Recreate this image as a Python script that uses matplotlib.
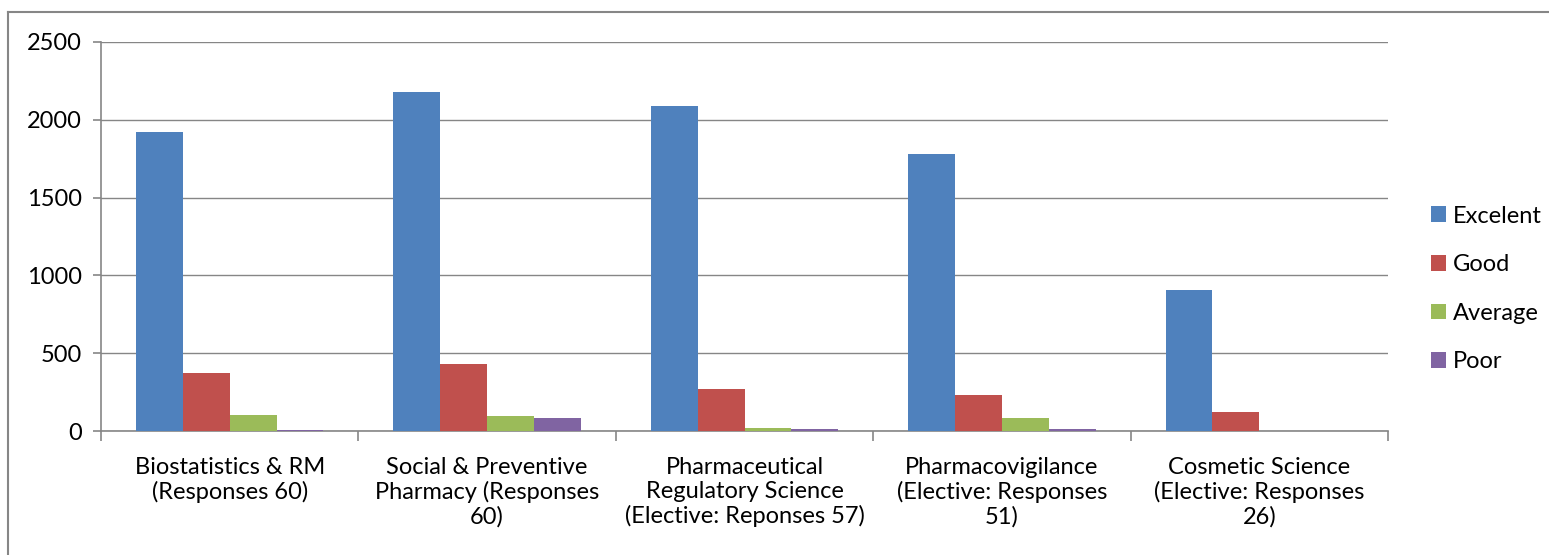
import matplotlib.pyplot as plt
import numpy as np
from matplotlib.lines import Line2D

courses = ['Biostatistics & RM\n(Responses 60)',
           'Social & Preventive\nPharmacy (Responses\n60)',
           'Pharmaceutical\nRegulatory Science\n(Elective: Reponses 57)',
           'Pharmacovigilance\n(Elective: Responses\n51)',
           'Cosmetic Science\n(Elective: Responses\n26)']
excelent = [1920, 2180, 2090, 1780, 907]
good = [373, 431, 270, 231, 122]
average = [101, 95, 17, 84, 0]
poor = [8, 82, 15, 13, 0]

series = [('Excelent', excelent, '#4F81BD'),
          ('Good', good, '#C0504D'),
          ('Average', average, '#9BBB59'),
          ('Poor', poor, '#8064A2')]

plt.rcParams['font.family'] = ['Lato', 'DejaVu Sans']

W, H = 1549, 555
fig = plt.figure(figsize=(W / 100, H / 100), dpi=100)
ax = fig.add_axes([101/W, 1 - 431/H, (1388-101)/W, (431-42)/H])

x = np.arange(len(courses))
w = 0.182
for i, (name, vals, col) in enumerate(series):
    ax.bar(x + (i - 1.5) * w, vals, w, color=col, label=name, zorder=3)

ax.set_xlim(-0.5, len(courses) - 0.5)
ax.set_ylim(0, 2500)
ax.set_yticks(range(0, 2501, 500))
ax.yaxis.grid(True, color='#868686', linewidth=1, zorder=0)

ax.set_xticks(np.arange(-0.5, len(courses)), minor=False)
ax.set_xticklabels([])
ax.set_xticks(x, minor=True)
ax.set_xticklabels(courses, minor=True, fontsize=17, linespacing=1.17, va='top')
ax.tick_params(axis='x', which='minor', length=0, pad=18.5)
ax.tick_params(axis='x', which='major', length=7, color='#868686', width=1.2)
ax.tick_params(axis='y', length=6, color='#868686', width=1.2, labelsize=17, pad=8)

for s in ['top', 'right']:
    ax.spines[s].set_visible(False)
for s in ['left', 'bottom']:
    ax.spines[s].set_color('#868686')
    ax.spines[s].set_linewidth(1.2)

fig.legend(loc='center left', bbox_to_anchor=(1419/W, 1 - 289/H),
           frameon=False, fontsize=17, handlelength=0.65, handleheight=0.65,
           handletextpad=0.3, labelspacing=1.17, borderpad=0)

# outer chart border (only left and top edges visible)
fig.lines.append(Line2D([8/W, 8/W], [0, 1 - 12/H], transform=fig.transFigure,
                        color='#868686', linewidth=1.5))
fig.lines.append(Line2D([8/W, 1], [1 - 12/H, 1 - 12/H], transform=fig.transFigure,
                        color='#868686', linewidth=1.5))

fig.savefig('out.png', dpi=100)
